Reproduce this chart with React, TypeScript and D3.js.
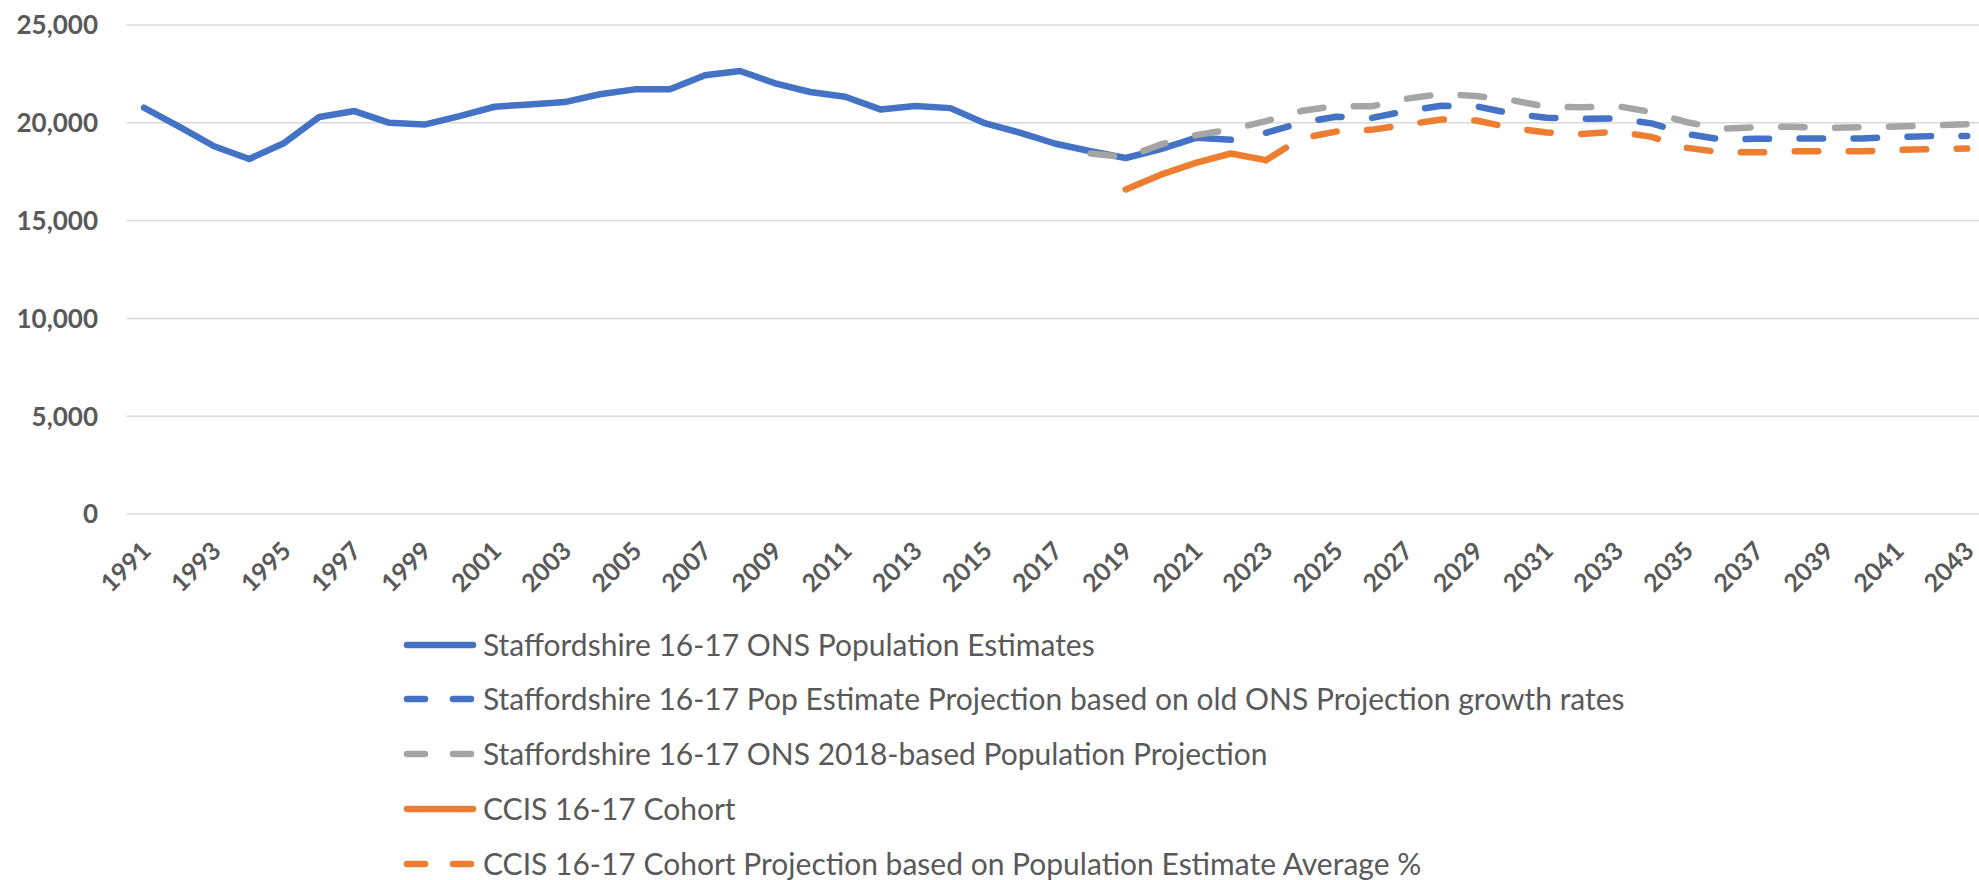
import React, { useEffect, useRef } from 'react';
import * as d3 from 'd3';

// years on the category axis
const years = d3.range(1991, 2044);

// Staffordshire 16-17 ONS Population Estimates (1991-2022)
const popEstimates = [
  20770, 19800, 18800, 18150, 18970, 20300, 20600, 20000, 19910, 20340,
  20820, 20940, 21060, 21460, 21710, 21710, 22430, 22650, 22020, 21575,
  21335, 20685, 20856, 20750, 19966, 19490, 18930, 18545, 18200, 18650,
  19230, 19130,
];

// Pop Estimate Projection based on old ONS growth rates (2023-2043)
const popProjOld = [
  19490, 20000, 20310, 20240, 20600, 20870, 20840, 20480, 20260, 20200,
  20220, 19970, 19430, 19140, 19180, 19200, 19200, 19200, 19280, 19320,
  19330,
];

// ONS 2018-based Population Projection (2018-2043)
const onsProj2018 = [
  18430, 18240, 18890, 19370, 19660, 20085, 20600, 20860, 20840, 21230,
  21470, 21370, 21160, 20820, 20790, 20860, 20550, 20030, 19690, 19780,
  19800, 19740, 19780, 19810, 19860, 19930,
];

// CCIS 16-17 Cohort (2019-2023)
const ccisCohort = [16590, 17350, 17950, 18430, 18090];

// CCIS Cohort Projection based on Population Estimate Average % (2023-2043)
const ccisProj = [
  18090, 19200, 19550, 19640, 19900, 20170, 20120, 19740, 19500, 19430,
  19550, 19280, 18720, 18490, 18490, 18540, 18540, 18540, 18610, 18650,
  18680,
];

const yTicks = [0, 5000, 10000, 15000, 20000, 25000];

const seriesDefs = [
  { name: 'Staffordshire 16-17 ONS Population Estimates', start: 1991, values: popEstimates, color: '#4472C4', dashed: false },
  { name: 'Staffordshire 16-17 Pop Estimate Projection based on old ONS Projection growth rates', start: 2023, values: popProjOld, color: '#4472C4', dashed: true },
  { name: 'Staffordshire 16-17 ONS 2018-based Population Projection', start: 2018, values: onsProj2018, color: '#A5A5A5', dashed: true },
  { name: 'CCIS 16-17 Cohort', start: 2019, values: ccisCohort, color: '#ED7D31', dashed: false },
  { name: 'CCIS 16-17 Cohort Projection based on Population Estimate Average %', start: 2023, values: ccisProj, color: '#ED7D31', dashed: true },
];

const W = 1979;
const H = 880;

const Chart = () => {
  const svgRef = useRef<SVGSVGElement>(null);

  useEffect(() => {
    if (!svgRef.current) return;
    const svg = d3.select(svgRef.current);
    svg.selectAll('*').remove();

    const plotLeft = 126.5;
    const catW = 35.06;
    const x = d3.scaleBand<number>()
      .domain(years)
      .range([plotLeft, plotLeft + catW * years.length]);
    const cx = (yr: number) => (x(yr) || 0) + x.bandwidth() / 2;

    const y = d3.scaleLinear().domain([0, 25000]).range([514, 25]);

    const textCol = '#595959';
    const font = 'Lato, "Open Sans", sans-serif';
    const lw = 6.5;
    const dash = '23.5,30.5';

    // gridlines
    svg.append('g')
      .selectAll('line')
      .data(yTicks)
      .enter().append('line')
        .attr('x1', plotLeft)
        .attr('x2', plotLeft + catW * years.length)
        .attr('y1', d => y(d))
        .attr('y2', d => y(d))
        .attr('stroke', '#d9d9d9')
        .attr('stroke-width', 1.5);

    // y labels
    svg.append('g')
      .selectAll('text')
      .data(yTicks)
      .enter().append('text')
        .attr('x', 98)
        .attr('y', d => y(d))
        .attr('dy', '0.36em')
        .attr('text-anchor', 'end')
        .attr('font-family', font)
        .attr('font-weight', 'bold')
        .attr('font-size', 26)
        .attr('fill', textCol)
        .text(d => d3.format(',')(d));

    // x labels, every other year
    svg.append('g')
      .selectAll('text')
      .data(years.filter((_, i) => i % 2 === 0))
      .enter().append('text')
        .attr('transform', d => `translate(${cx(d) + 2},546) rotate(-45)`)
        .attr('dy', '0.36em')
        .attr('text-anchor', 'end')
        .attr('font-family', font)
        .attr('font-weight', 'bold')
        .attr('font-size', 25)
        .attr('fill', textCol)
        .text(d => String(d));

    seriesDefs.forEach(s => {
      const pts = s.values.map((v, i) => [cx(s.start + i), y(v)] as [number, number]);
      svg.append('path')
        .attr('d', d3.line()(pts))
        .attr('fill', 'none')
        .attr('stroke', s.color)
        .attr('stroke-width', lw)
        .attr('stroke-linecap', 'round')
        .attr('stroke-linejoin', 'round')
        .attr('stroke-dasharray', s.dashed ? dash : null);
    });

    // legend
    const rowY = [645, 699, 754, 809, 864];
    const legend = svg.append('g')
      .selectAll('g')
      .data(seriesDefs)
      .enter().append('g')
        .attr('transform', (_, i) => `translate(0,${rowY[i]})`);

    legend.append('line')
      .attr('x1', 407)
      .attr('x2', 473)
      .attr('y1', 0)
      .attr('y2', 0)
      .attr('stroke', d => d.color)
      .attr('stroke-width', lw)
      .attr('stroke-linecap', 'round')
      .attr('stroke-dasharray', d => d.dashed ? '18,28' : null);

    legend.append('text')
      .attr('x', 483)
      .attr('y', 0)
      .attr('dy', '0.35em')
      .attr('font-family', font)
      .attr('font-size', 30)
      .attr('fill', textCol)
      .text(d => d.name);
  }, []);

  return (
    <svg
      ref={svgRef}
      width={W}
      height={H}
      style={{ position: 'absolute', left: 0, top: 0, background: '#fff', display: 'block' }}
    />
  );
};

export default function App() {
  return <Chart />;
}
